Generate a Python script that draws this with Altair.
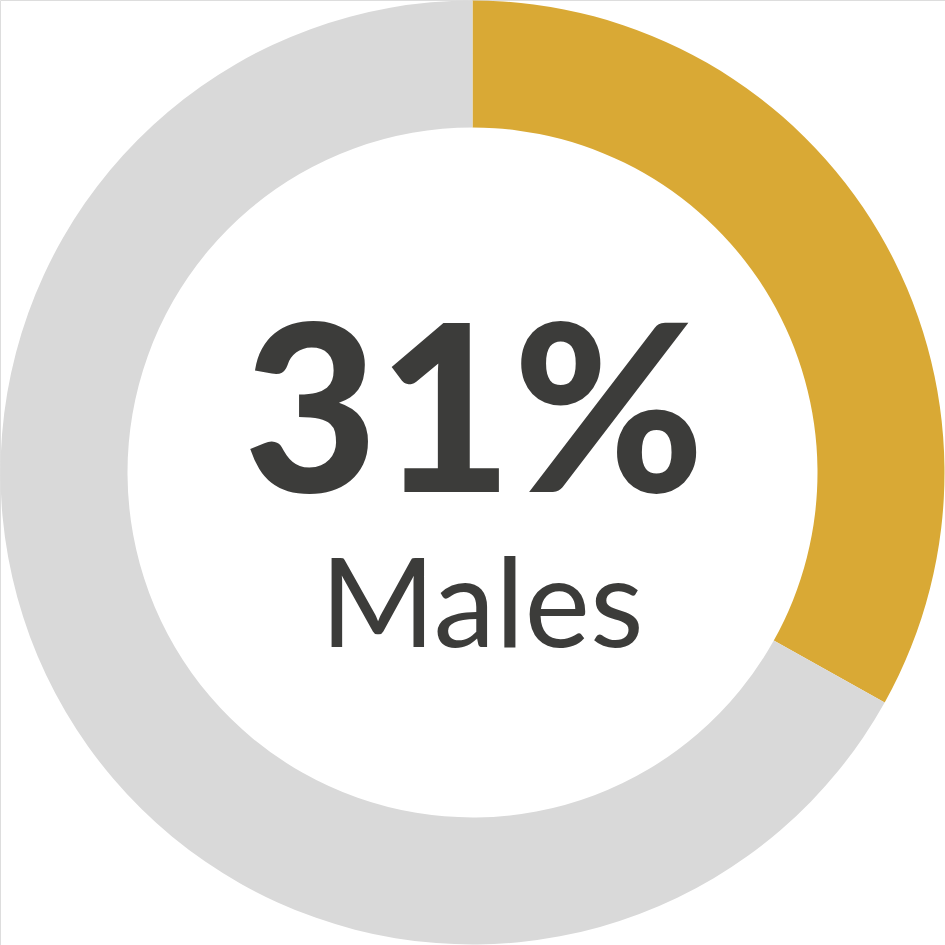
import altair as alt
import pandas as pd

categories = ["Males", "Other"]
values = [33.1, 66.9]
colors = ["#D9A935", "#D9D9D9"]
big_label = "31%"
small_label = "Males"

df = pd.DataFrame({"category": categories, "value": values, "order": [0, 1]})

donut = alt.Chart(df).mark_arc(radius=472, radius2=345, strokeWidth=0).encode(
    theta=alt.Theta("value:Q", stack=True),
    order=alt.Order("order:Q"),
    color=alt.Color("category:N", scale=alt.Scale(domain=categories, range=colors), legend=None),
)

txt_df = pd.DataFrame({"t": [big_label]})
big = alt.Chart(txt_df).mark_text(
    font="Lato", fontWeight=900, fontSize=232, color="#3C3C3A", baseline="alphabetic", align="center"
).encode(text="t:N", x=alt.value(474), y=alt.value(492))

txt_df2 = pd.DataFrame({"t": [small_label]})
small = alt.Chart(txt_df2).mark_text(
    font="Lato", fontWeight=400, fontSize=124, color="#3C3C3A", baseline="alphabetic", align="center"
).encode(text="t:N", x=alt.value(482), y=alt.value(647))

chart = alt.layer(donut, big, small).properties(
    width=945, height=945, autosize=alt.AutoSizeParams(type="none"), padding=0
).configure_view(stroke="transparent", strokeWidth=0).configure(background="white")

chart.save("out.html", embed_options={"renderer": "svg", "actions": False})
